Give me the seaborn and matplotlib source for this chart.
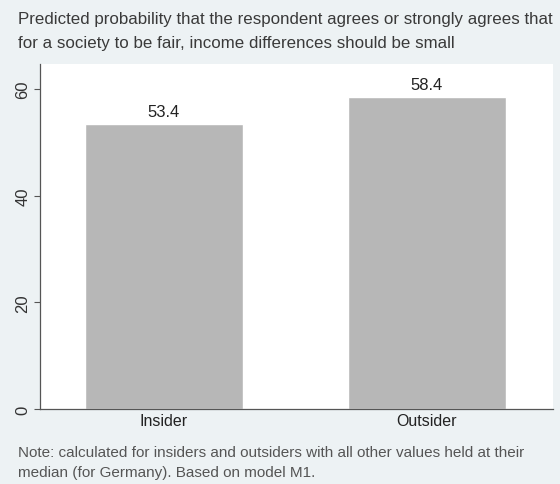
import pandas as pd
import seaborn as sns
import matplotlib.pyplot as plt

# Data
groups = ['Insider', 'Outsider']
probability = [53.4, 58.4]
yticks = [0, 20, 40, 60]

title = ('Predicted probability that the respondent agrees or strongly agrees that\n'
         'for a society to be fair, income differences should be small')
note = ('Note: calculated for insiders and outsiders with all other values held at their\n'
        'median (for Germany). Based on model M1.')

df = pd.DataFrame({'group': groups, 'prob': probability})

sns.set_style('white')
plt.rcParams['font.family'] = ['Liberation Sans', 'DejaVu Sans']

bg = '#edf2f4'
fig = plt.figure(figsize=(5.6, 4.85), dpi=100, facecolor=bg)
ax = fig.add_axes([0.0714, 0.1546, 0.916, 0.712])
ax.set_facecolor('white')

sns.barplot(data=df, x='group', y='prob', color='#b7b7b7', saturation=1,
            width=0.6, ax=ax)

# value labels above bars
for i, v in enumerate(probability):
    ax.text(i, v + 1.0, f'{v:.1f}', ha='center', va='bottom',
            fontsize=12, color='#222222')

ax.set_ylim(0, 64.7)
ax.set_xlim(-0.47, 1.48)
ax.set_yticks(yticks)
ax.set_yticklabels([str(t) for t in yticks], rotation=90, va='center',
                   fontsize=12, color='#333333')
ax.tick_params(axis='y', length=4, width=0.8, color='#555555', left=True, pad=3)
ax.tick_params(axis='x', length=0, labelsize=11.5, labelcolor='#222222', pad=3)
ax.set_xlabel('')
ax.set_ylabel('')

for s in ['top', 'right']:
    ax.spines[s].set_visible(False)
for s in ['left', 'bottom']:
    ax.spines[s].set_color('#555555')
    ax.spines[s].set_linewidth(0.9)

fig.text(0.032, 0.975, title, ha='left', va='top', fontsize=12.2,
         color='#3a3a3a', linespacing=1.7)
fig.text(0.032, 0.080, note, ha='left', va='top', fontsize=11,
         color='#555555', linespacing=1.55)

fig.savefig('out.png', dpi=100, facecolor=bg)
